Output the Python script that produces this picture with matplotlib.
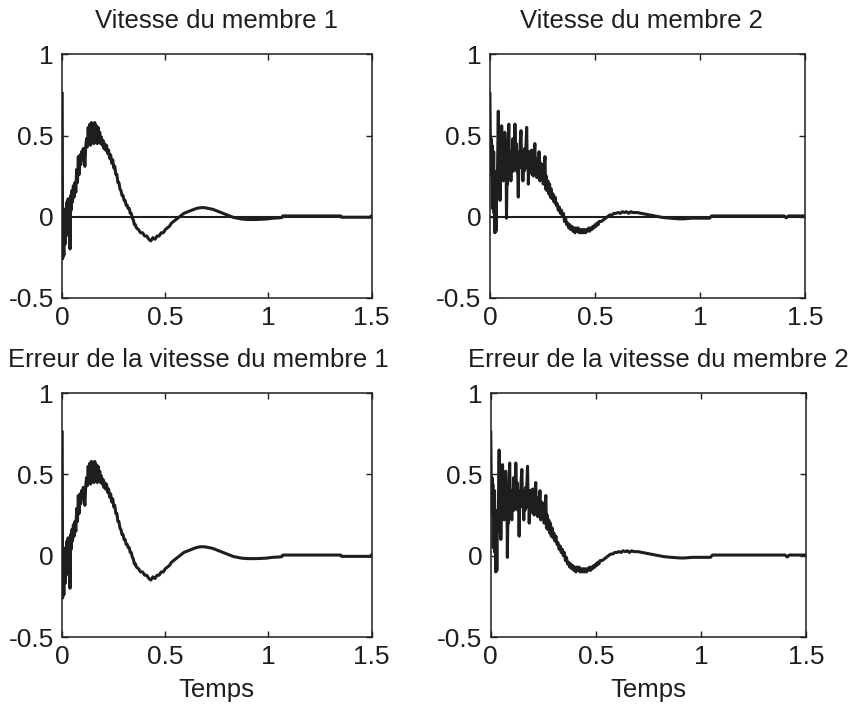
import numpy as np
import matplotlib.pyplot as plt

plt.rcParams['font.family'] = ['Liberation Sans', 'DejaVu Sans']

# vitesse du membre 1 (temps, vitesse)
t1 = [0.000, 0.002, 0.005, 0.008, 0.011, 0.014, 0.017, 0.020, 0.023, 0.026,
      0.029, 0.032, 0.035, 0.038, 0.041, 0.044, 0.047, 0.050, 0.054, 0.058,
      0.062, 0.066, 0.070, 0.074, 0.078, 0.082, 0.086, 0.090, 0.094, 0.098,
      0.102, 0.106, 0.110, 0.114, 0.118, 0.122, 0.126, 0.130, 0.134, 0.138,
      0.142, 0.146, 0.150, 0.154, 0.158, 0.162, 0.166, 0.170, 0.174, 0.178,
      0.182, 0.186, 0.190, 0.194, 0.198, 0.202, 0.206, 0.210, 0.215, 0.220,
      0.225, 0.230, 0.235, 0.240, 0.245, 0.250, 0.255, 0.260, 0.265, 0.270,
      0.275, 0.280, 0.285, 0.290, 0.295, 0.300, 0.305, 0.310, 0.315, 0.320,
      0.325, 0.330, 0.335, 0.340, 0.345, 0.350, 0.355, 0.360, 0.370, 0.380,
      0.390, 0.400, 0.410, 0.420, 0.430, 0.440, 0.450, 0.460, 0.470, 0.480,
      0.490, 0.500, 0.510, 0.520, 0.530, 0.540, 0.550, 0.560, 0.570, 0.590,
      0.610, 0.630, 0.650, 0.670, 0.690, 0.710, 0.730, 0.750, 0.770, 0.790,
      0.810, 0.830, 0.850, 0.870, 0.900, 0.930, 0.960, 0.990, 1.020, 1.050,
      1.065, 1.070, 1.200, 1.350, 1.355, 1.495, 1.500]
v1 = [0.76, -0.26, -0.12, -0.24, -0.02, -0.17, 0.05, -0.08, 0.09, -0.04,
      0.11, -0.12, 0.10, -0.20, 0.13, 0.04, 0.16, 0.09, 0.19, 0.12,
      0.21, 0.15, 0.29, 0.21, 0.37, 0.26, 0.38, 0.32, 0.40, 0.35,
      0.42, 0.37, 0.31, 0.43, 0.48, 0.43, 0.55, 0.45, 0.57, 0.44,
      0.58, 0.46, 0.57, 0.45, 0.58, 0.48, 0.56, 0.45, 0.55, 0.46,
      0.52, 0.45, 0.49, 0.44, 0.47, 0.42, 0.45, 0.41, 0.44, 0.39,
      0.41, 0.36, 0.38, 0.33, 0.35, 0.30, 0.31, 0.26, 0.26, 0.21,
      0.21, 0.17, 0.16, 0.13, 0.13, 0.10, 0.10, 0.07, 0.07, 0.05,
      0.05, 0.02, 0.02, -0.01, -0.02, -0.05, -0.05, -0.07, -0.08, -0.10,
      -0.10, -0.12, -0.12, -0.14, -0.15, -0.13, -0.14, -0.12, -0.12, -0.10,
      -0.10, -0.08, -0.07, -0.06, -0.04, -0.03, -0.02, -0.01, 0.00, 0.02,
      0.03, 0.04, 0.05, 0.055, 0.055, 0.05, 0.045, 0.035, 0.025, 0.015,
      0.005, -0.005, -0.01, -0.015, -0.018, -0.018, -0.017, -0.015, -0.01, -0.008,
      -0.006, 0.004, 0.004, 0.004, -0.004, -0.004, 0.004]

# vitesse du membre 2 (temps, vitesse)
t2 = [0.000, 0.002, 0.004, 0.006, 0.008, 0.010, 0.012, 0.014, 0.016, 0.018,
      0.020, 0.022, 0.024, 0.026, 0.029, 0.032, 0.035, 0.038, 0.040, 0.043,
      0.046, 0.048, 0.051, 0.054, 0.056, 0.059, 0.062, 0.064, 0.067, 0.069,
      0.071, 0.074, 0.077, 0.079, 0.082, 0.084, 0.087, 0.090, 0.093, 0.096,
      0.100, 0.103, 0.106, 0.109, 0.111, 0.114, 0.117, 0.119, 0.122, 0.125,
      0.128, 0.131, 0.135, 0.138, 0.141, 0.144, 0.148, 0.151, 0.154, 0.157,
      0.160, 0.163, 0.166, 0.169, 0.172, 0.175, 0.178, 0.181, 0.183, 0.187,
      0.190, 0.194, 0.198, 0.201, 0.204, 0.207, 0.211, 0.214, 0.217, 0.220,
      0.224, 0.227, 0.230, 0.234, 0.238, 0.242, 0.246, 0.250, 0.254, 0.258,
      0.262, 0.265, 0.268, 0.272, 0.276, 0.280, 0.284, 0.288, 0.292, 0.296,
      0.300, 0.305, 0.310, 0.315, 0.320, 0.325, 0.330, 0.335, 0.340, 0.345,
      0.350, 0.355, 0.360, 0.365, 0.370, 0.375, 0.380, 0.385, 0.390, 0.395,
      0.400, 0.405, 0.410, 0.415, 0.420, 0.425, 0.430, 0.435, 0.440, 0.445,
      0.450, 0.455, 0.460, 0.465, 0.470, 0.475, 0.480, 0.485, 0.490, 0.495,
      0.500, 0.505, 0.510, 0.515, 0.520, 0.530, 0.540, 0.550, 0.560, 0.570,
      0.580, 0.590, 0.600, 0.610, 0.620, 0.630, 0.640, 0.650, 0.660, 0.670,
      0.680, 0.700, 0.720, 0.740, 0.760, 0.780, 0.800, 0.820, 0.840, 0.860,
      0.880, 0.900, 0.920, 0.940, 0.960, 0.990, 1.020, 1.045, 1.055, 1.400,
      1.410, 1.420, 1.500]
v2 = [0.76, 0.50, 0.26, 0.48, 0.30, 0.44, 0.05, 0.35, 0.12, 0.40,
      0.02, 0.28, -0.10, 0.20, -0.09, 0.25, 0.15, 0.45, 0.65, 0.20,
      0.35, 0.10, 0.40, 0.25, 0.56, 0.30, 0.45, 0.22, 0.40, 0.30,
      0.52, 0.30, 0.42, -0.01, 0.30, 0.20, 0.45, 0.57, 0.32, 0.40,
      0.22, 0.38, 0.30, 0.48, 0.28, 0.42, 0.30, 0.57, 0.34, 0.45,
      0.28, 0.40, 0.12, 0.35, 0.30, 0.45, 0.53, 0.30, 0.40, 0.22,
      0.38, 0.28, 0.42, 0.30, 0.45, 0.55, 0.30, 0.36, 0.20, 0.40,
      0.28, 0.38, 0.41, 0.26, 0.36, 0.25, 0.40, 0.45, 0.26, 0.35,
      0.24, 0.36, 0.30, 0.40, 0.22, 0.33, 0.25, 0.32, 0.20, 0.30,
      0.37, 0.17, 0.25, 0.16, 0.22, 0.14, 0.20, 0.12, 0.17, 0.11,
      0.14, 0.09, 0.12, 0.07, 0.08, 0.04, 0.06, 0.02, 0.04, 0.00,
      0.02, -0.03, -0.01, -0.05, -0.04, -0.07, -0.05, -0.08, -0.06, -0.09,
      -0.07, -0.10, -0.07, -0.09, -0.07, -0.10, -0.08, -0.10, -0.08, -0.10,
      -0.08, -0.10, -0.08, -0.09, -0.07, -0.09, -0.07, -0.08, -0.06, -0.07,
      -0.05, -0.06, -0.04, -0.05, -0.03, -0.03, -0.02, -0.01, 0.00, 0.01,
      0.01, 0.02, 0.02, 0.025, 0.02, 0.03, 0.025, 0.03, 0.02, 0.03,
      0.025, 0.025, 0.02, 0.015, 0.01, 0.005, 0.0, -0.005, -0.008, -0.01,
      -0.012, -0.014, -0.014, -0.012, -0.01, -0.01, -0.01, -0.01, 0.004, 0.004,
      -0.008, 0.004, 0.004]

# consigne de vitesse (nulle)
t_ref = [0.0, 1.5]
v_ref = [0.0, 0.0]

titles = ["Vitesse du membre 1", "Vitesse du membre 2",
          "Erreur de la vitesse du membre 1", "Erreur de la vitesse du membre 2"]
title_x = [0.50, 0.48, 0.44, 0.53]
xticks = [0, 0.5, 1, 1.5]
xticklabels = ["0", "0.5", "1", "1.5"]
yticks = [-0.5, 0, 0.5, 1]
yticklabels = ["-0.5", "0", "0.5", "1"]

fig = plt.figure(figsize=(8.64, 7.07), dpi=100)
boxes = [[0.072, 0.579, 0.358, 0.344], [0.567, 0.579, 0.365, 0.344],
         [0.072, 0.099, 0.358, 0.345], [0.568, 0.099, 0.365, 0.345]]
axes = [fig.add_axes(b) for b in boxes]

series = [(t1, v1), (t2, v2)]
for i, ax in enumerate(axes):
    t, v = series[i % 2]
    v = np.array(v)
    if i < 2:
        ax.plot(t_ref, v_ref, color='#1e1e1e', lw=1.5)
        ax.plot(t, v, color='#1e1e1e', lw=2.2)
    else:
        err = v - np.interp(t, t_ref, v_ref)
        ax.plot(t, err, color='#1e1e1e', lw=2.2)
    ax.set_xlim(0, 1.5)
    ax.set_ylim(-0.5, 1)
    ax.set_xticks(xticks)
    ax.set_xticklabels(xticklabels)
    ax.set_yticks(yticks)
    ax.set_yticklabels(yticklabels)
    ax.tick_params(direction='in', top=True, right=True, length=4,
                   width=1, labelsize=19, pad=6, colors='#1e1e1e')
    for s in ax.spines.values():
        s.set_linewidth(1.1)
        s.set_color('#1e1e1e')
    ax.set_title(titles[i], fontsize=18.5, x=title_x[i], pad=19, color='#1e1e1e')
    if i >= 2:
        ax.set_xlabel("Temps", fontsize=18.5, labelpad=6, color='#1e1e1e')

fig.savefig("out.png", dpi=100)
